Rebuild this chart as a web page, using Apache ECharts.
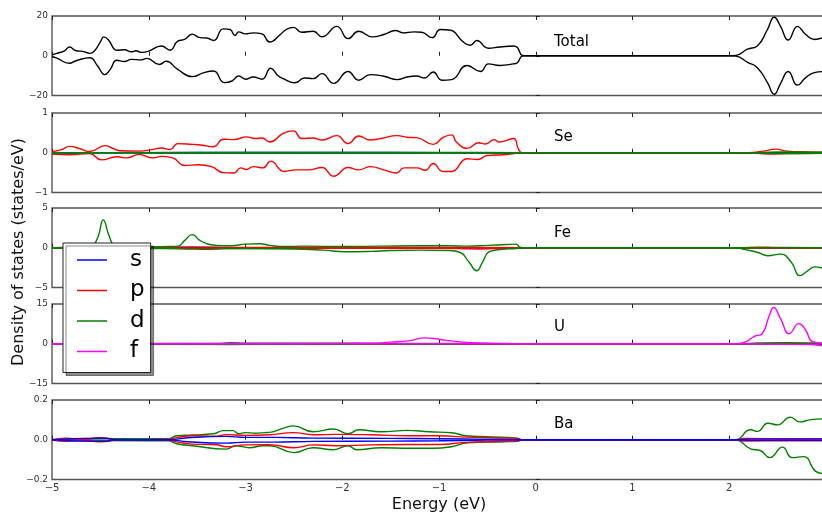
<!DOCTYPE html>
<html><head><meta charset="utf-8">
<script src="https://cdn.jsdelivr.net/npm/echarts@6/dist/echarts.min.js"></script>
<style>html,body{margin:0;padding:0;background:#fff}#c{width:822px;height:512px}</style>
</head><body><div id="c"></div>
<script>
// ---- data: [energy (eV), DOS] pairs ----
const xTicks = [-5,-4,-3,-2,-1,0,1,2,3];
const panelNames = ['Total','Se','Fe','U','Ba'];
const yLimits = [20, 1, 5, 15, 0.2];

const totalUp = [[-5,0.5],[-4.95,1.2],[-4.87,2.5],[-4.82,4.4],[-4.75,2.5],[-4.68,2.2],[-4.61,1.2],[-4.56,2.5],[-4.5,7],[-4.465,9.5],[-4.42,8.2],[-4.33,2.8],[-4.25,3.0],[-4.18,2.0],[-4.13,2.5],[-4.075,1.7],[-4.006,2.2],[-3.87,4.9],[-3.78,2.8],[-3.70,7.4],[-3.63,8.2],[-3.55,10.8],[-3.47,9.1],[-3.40,8.9],[-3.33,7.7],[-3.23,13.5],[-3.16,13.2],[-3.11,10.2],[-3.07,12.0],[-3.0,11.0],[-2.92,11.5],[-2.83,11.0],[-2.75,6.9],[-2.64,10.7],[-2.58,13.2],[-2.505,14.3],[-2.42,11.8],[-2.30,12.3],[-2.21,9.5],[-2.056,14.8],[-1.94,8.6],[-1.83,12.3],[-1.69,9.5],[-1.57,10.7],[-1.45,12.7],[-1.37,11.5],[-1.26,12.0],[-1.18,11.8],[-1.07,9.1],[-0.987,13.2],[-0.88,12.8],[-0.76,7.4],[-0.676,5.3],[-0.61,7.7],[-0.49,3.8],[-0.37,4.4],[-0.23,4.9],[-0.19,4.1],[-0.14,0.2],[-0.1,0],[2.0,0],[2.07,0.2],[2.188,3.3],[2.29,4.9],[2.395,13.2],[2.464,19.4],[2.53,14.8],[2.61,7.9],[2.705,14.8],[2.79,10.7],[2.88,8.2],[2.97,9.1]];
const totalDn = [[-5,-0.5],[-4.95,-1.2],[-4.82,-3.8],[-4.75,-2.5],[-4.61,-1.0],[-4.53,-5],[-4.455,-9.5],[-4.4,-7],[-4.33,-2.3],[-4.25,-2.9],[-4.18,-1.8],[-4.08,-2.1],[-4.02,-1.3],[-3.89,-4.4],[-3.82,-2.8],[-3.70,-6.9],[-3.55,-10.5],[-3.43,-8.5],[-3.33,-7.7],[-3.22,-13.5],[-3.14,-12.7],[-3.07,-10.2],[-3.0,-11.8],[-2.92,-10.7],[-2.83,-11.8],[-2.74,-6.3],[-2.66,-10.2],[-2.61,-11.5],[-2.49,-13.6],[-2.39,-11.2],[-2.30,-11.5],[-2.21,-9.0],[-2.09,-13.9],[-1.94,-7.9],[-1.83,-12.3],[-1.71,-9.5],[-1.57,-10.3],[-1.43,-12.0],[-1.33,-10.7],[-1.23,-10.2],[-1.15,-11.2],[-1.06,-8.2],[-0.97,-12.3],[-0.87,-12.0],[-0.71,-4.9],[-0.57,-7.9],[-0.49,-4.1],[-0.37,-4.9],[-0.23,-4.1],[-0.19,-3.5],[-0.14,-0.2],[-0.1,0],[2.0,0],[2.07,-0.2],[2.19,-3.3],[2.29,-6],[2.395,-13.5],[2.464,-19.4],[2.53,-14],[2.61,-7.9],[2.705,-14.8],[2.79,-11],[2.88,-8.5],[2.97,-8]];

const seS_up = [[-5,0],[-4,0.003],[-3,0.005],[-2,0.005],[-1,0.004],[-0.14,0],[3,0]];
const seS_dn = [[-5,0],[-4,-0.003],[-3,-0.005],[-2,-0.005],[-1,-0.004],[-0.14,0],[3,0]];
const seP_up = [[-5,0.03],[-4.9,0.08],[-4.82,0.16],[-4.71,0.1],[-4.61,0.03],[-4.45,0.18],[-4.38,0.12],[-4.3,0.05],[-4.1,0.04],[-3.96,0.08],[-3.87,0.12],[-3.78,0.08],[-3.70,0.23],[-3.55,0.21],[-3.45,0.19],[-3.33,0.15],[-3.23,0.34],[-3.12,0.33],[-2.99,0.40],[-2.9,0.36],[-2.83,0.37],[-2.75,0.27],[-2.61,0.49],[-2.505,0.55],[-2.42,0.36],[-2.30,0.37],[-2.21,0.32],[-2.056,0.43],[-1.94,0.23],[-1.83,0.42],[-1.71,0.32],[-1.6,0.36],[-1.43,0.43],[-1.33,0.39],[-1.23,0.38],[-1.06,0.21],[-0.96,0.38],[-0.87,0.45],[-0.82,0.27],[-0.71,0.11],[-0.59,0.25],[-0.52,0.22],[-0.43,0.33],[-0.38,0.27],[-0.23,0.36],[-0.18,0.1],[-0.14,0],[2.2,0],[2.35,0.04],[2.48,0.09],[2.6,0.04],[2.8,0.02],[3,0.01]];
const seP_dn = [[-5,-0.03],[-4.82,-0.05],[-4.61,-0.02],[-4.49,-0.18],[-4.33,-0.1],[-4.23,-0.13],[-4.1,-0.04],[-3.96,-0.13],[-3.86,-0.09],[-3.75,-0.13],[-3.63,-0.32],[-3.49,-0.3],[-3.35,-0.35],[-3.23,-0.5],[-3.12,-0.51],[-3.05,-0.38],[-2.99,-0.42],[-2.92,-0.35],[-2.82,-0.38],[-2.74,-0.21],[-2.60,-0.47],[-2.48,-0.43],[-2.35,-0.43],[-2.21,-0.37],[-2.09,-0.59],[-1.94,-0.37],[-1.83,-0.43],[-1.71,-0.35],[-1.57,-0.43],[-1.44,-0.51],[-1.36,-0.38],[-1.23,-0.38],[-1.14,-0.44],[-1.06,-0.27],[-0.96,-0.47],[-0.87,-0.47],[-0.71,-0.15],[-0.6,-0.17],[-0.5,-0.07],[-0.33,-0.05],[-0.18,-0.01],[-0.14,0],[2.2,0],[2.4,-0.03],[2.6,-0.02],[3,-0.01]];
const seD_up = [[-5,0],[-3,0.01],[-2,0.01],[-1,0.01],[-0.14,0],[2.2,0],[2.5,0.02],[3,0.01]];
const seD_dn = [[-5,0],[-3,-0.01],[-2,-0.01],[-1,-0.01],[-0.14,0],[2.2,0],[2.5,-0.02],[3,-0.01]];

const feS_up = [[-5,0],[-4.47,0.03],[-3,0.02],[-0.14,0],[3,0]];
const feS_dn = [[-5,0],[-4.47,-0.03],[-3,-0.02],[-0.14,0],[3,0]];
const feP_up = [[-5,0],[-4.47,0.1],[-4.2,0.02],[-3.55,0.1],[-3,0.05],[-2,0.05],[-1,0.05],[-0.14,0],[2.1,0],[2.3,0.08],[2.5,0.03],[3,0.02]];
const feP_dn = [[-5,0],[-4.47,-0.1],[-4.2,-0.02],[-3.6,-0.15],[-3.4,-0.2],[-3.2,-0.1],[-2,-0.08],[-1,-0.08],[-0.6,-0.15],[-0.14,0],[2.1,0],[2.5,-0.05],[3,-0.05]];
const feD_up = [[-5,0],[-4.75,0.05],[-4.6,0.2],[-4.53,1.2],[-4.47,3.5],[-4.41,1.5],[-4.35,0.3],[-4.2,0.1],[-4.0,0.1],[-3.8,0.15],[-3.7,0.2],[-3.63,0.9],[-3.55,1.65],[-3.48,1.0],[-3.4,0.5],[-3.3,0.3],[-3.15,0.25],[-3.0,0.45],[-2.85,0.5],[-2.75,0.3],[-2.6,0.15],[-2.4,0.2],[-2.0,0.15],[-1.6,0.2],[-1.2,0.25],[-0.9,0.25],[-0.7,0.2],[-0.5,0.3],[-0.3,0.4],[-0.2,0.45],[-0.17,0.1],[-0.14,0],[2.0,0],[3,0]];
const feD_dn = [[-5,0],[-4.5,-0.1],[-3.5,-0.1],[-3,-0.1],[-2.5,-0.15],[-2.2,-0.3],[-1.97,-0.5],[-1.7,-0.45],[-1.5,-0.35],[-1.2,-0.3],[-0.9,-0.35],[-0.78,-0.6],[-0.69,-1.8],[-0.61,-2.9],[-0.55,-1.8],[-0.48,-0.5],[-0.35,-0.2],[-0.2,-0.1],[-0.14,0],[2.0,0],[2.1,-0.05],[2.15,-0.2],[2.29,-0.56],[2.40,-1.0],[2.53,-0.8],[2.64,-1.8],[2.73,-3.5],[2.81,-2.9],[2.88,-2.4],[2.97,-2.6]];

const uS_up = [[-5,0],[-3,0.02],[-0.14,0],[3,0]];
const uS_dn = [[-5,0],[-3,-0.02],[-0.14,0],[3,0]];
const uP_up = [[-5,0],[-3,0.05],[-1,0.05],[-0.14,0],[2.1,0],[2.6,0.1],[3,0.05]];
const uP_dn = [[-5,0],[-3,-0.05],[-1,-0.05],[-0.14,0],[2.1,0],[2.6,-0.1],[3,-0.05]];
const uD_up = [[-5,0],[-3.3,0.1],[-3.15,0.4],[-3.0,0.2],[-2.5,0.2],[-1.5,0.15],[-0.5,0.1],[-0.14,0],[2.1,0],[2.3,0.3],[2.6,0.4],[2.9,0.3],[3,0.2]];
const uD_dn = [[-5,0],[-3.15,-0.3],[-2.5,-0.15],[-1.5,-0.1],[-0.14,0],[2.1,0],[2.6,-0.2],[3,-0.2]];
const uF_up = [[-5,0],[-3,0.1],[-2,0.15],[-1.7,0.2],[-1.5,0.6],[-1.3,1.2],[-1.15,2.2],[-1.05,2.0],[-0.95,1.4],[-0.8,0.8],[-0.6,0.3],[-0.3,0.1],[-0.14,0],[2.05,0],[2.15,0.4],[2.26,2.8],[2.34,3.8],[2.41,10.2],[2.46,13.7],[2.53,9.5],[2.62,3.8],[2.72,7.6],[2.79,5.1],[2.86,0.8],[2.97,0.2]];
const uF_dn = [[-5,0],[-2,-0.05],[-0.14,0],[2.1,0],[2.5,-0.2],[2.85,-0.3],[2.97,-0.9]];

const baS_up = [[-5,0],[-4.55,0.008],[-4.45,0.008],[-4.35,0],[-3.8,0],[-3.6,0.01],[-3.2,0.017],[-3,0.012],[-2.7,0.012],[-2.3,0.008],[-1.5,0.007],[-1,0.005],[-0.5,0.002],[-0.14,0],[2.1,0],[2.2,0.003],[3,0.003]];
const baS_dn = [[-5,0],[-4.55,-0.008],[-4.45,-0.008],[-4.35,0],[-3.8,0],[-3.6,-0.01],[-3.2,-0.017],[-3,-0.012],[-2.7,-0.012],[-2.3,-0.008],[-1.5,-0.007],[-1,-0.005],[-0.5,-0.002],[-0.14,0],[2.1,0],[2.2,-0.003],[3,-0.003]];
const baP_up = [[-5,0],[-4.85,0.008],[-4.7,0],[-4.5,0.01],[-4.3,0],[-3.8,0.003],[-3.7,0.012],[-3.55,0.02],[-3.3,0.018],[-3.2,0.026],[-3.0,0.022],[-2.75,0.025],[-2.505,0.036],[-2.3,0.025],[-2.06,0.027],[-1.7,0.025],[-1.33,0.02],[-1.0,0.02],[-0.72,0.013],[-0.4,0.009],[-0.19,0.007],[-0.14,0],[2.06,0],[2.15,0.006],[2.6,0.005],[3,0.006]];
const baP_dn = [[-5,0],[-4.85,-0.008],[-4.7,0],[-4.5,-0.01],[-4.3,0],[-3.8,-0.003],[-3.7,-0.012],[-3.55,-0.022],[-3.3,-0.025],[-3.2,-0.035],[-3.0,-0.026],[-2.75,-0.025],[-2.5,-0.04],[-2.3,-0.026],[-2.06,-0.03],[-1.7,-0.026],[-1.33,-0.024],[-1.0,-0.024],[-0.72,-0.013],[-0.4,-0.009],[-0.19,-0.007],[-0.14,0],[2.06,0],[2.15,-0.006],[2.6,-0.005],[3,-0.006]];
const baD_up = [[-5,0],[-4.5,0.005],[-4,0.005],[-3.8,0.005],[-3.71,0.02],[-3.55,0.024],[-3.33,0.03],[-3.23,0.046],[-3.13,0.046],[-3.07,0.03],[-3.0,0.036],[-2.9,0.033],[-2.8,0.036],[-2.75,0.037],[-2.6,0.06],[-2.505,0.07],[-2.3,0.04],[-2.09,0.054],[-1.94,0.03],[-1.83,0.05],[-1.6,0.04],[-1.33,0.047],[-1.1,0.04],[-0.87,0.035],[-0.72,0.02],[-0.5,0.015],[-0.19,0.008],[-0.14,0],[2.06,0],[2.22,0.05],[2.29,0.042],[2.40,0.083],[2.5,0.075],[2.63,0.114],[2.73,0.09],[2.83,0.1],[2.97,0.105]];
const baD_dn = [[-5,0],[-4,-0.005],[-3.8,-0.005],[-3.71,-0.02],[-3.55,-0.03],[-3.2,-0.047],[-3.1,-0.03],[-2.96,-0.04],[-2.82,-0.03],[-2.75,-0.03],[-2.5,-0.065],[-2.3,-0.04],[-2.09,-0.05],[-1.94,-0.03],[-1.85,-0.05],[-1.6,-0.04],[-1.3,-0.043],[-1.06,-0.043],[-0.87,-0.035],[-0.7,-0.015],[-0.33,-0.01],[-0.19,-0.008],[-0.14,0],[2.06,0],[2.22,-0.046],[2.32,-0.054],[2.42,-0.09],[2.55,-0.037],[2.65,-0.09],[2.77,-0.085],[2.89,-0.158],[2.97,-0.17]];

// ---- chart ----
const C = {s:'#0000ff', p:'#ff0000', d:'#008000', f:'#ff00ff', Total:'#000000'};
const FONT = 'DejaVu Sans';
const tops = [16, 113, 208, 304, 400];
const H = 79.5;
const chart = echarts.init(document.getElementById('c'), null, {renderer:'canvas'});

const grids = [], xAxes = [], yAxes = [], series = [], graphics = [];
panelNames.forEach((name, i) => {
  grids.push({left:52, top:tops[i], width:774, height:H, show:true, borderColor:'#555', borderWidth:1.4,
    backgroundColor:'transparent', containLabel:false, outerBoundsMode:'none'});
  xAxes.push({type:'value', gridIndex:i, min:xTicks[0], max:xTicks[xTicks.length-1], interval:1, position:'bottom',
    axisLine:{show:false}, splitLine:{show:false},
    axisTick:{show:true, inside:true, length:4, lineStyle:{color:'#222', width:1}},
    axisLabel:{show:i===4, color:'#333', fontSize:10, fontFamily:FONT, margin:4, hideOverlap:false,
      formatter: v => String(v).replace('-', '\u2212')},
    name: i===4 ? 'Energy (eV)' : '', nameLocation:'middle', nameGap:17,
    nameTextStyle:{fontSize:16, fontFamily:FONT, color:'#111'}});
  const lim = yLimits[i];
  const frac = lim < 1;
  yAxes.push({type:'value', gridIndex:i, min:-lim, max:lim, interval:lim,
    axisLine:{show:false}, splitLine:{show:false},
    axisTick:{show:true, inside:true, length:4, lineStyle:{color:'#222', width:1}},
    axisLabel:{color:'#333', fontSize:9, fontFamily:FONT, margin:4,
      formatter: v => (frac ? v.toFixed(1) : String(Math.round(v))).replace('-', '\u2212')}});
  graphics.push({type:'text', left:554, top:tops[i] + [19,17,18,16,17][i],
    style:{text:name, font:'15px "DejaVu Sans"', fill:'#000'}});
});
panelNames.forEach((name, i) => {
  xAxes.push({type:'value', gridIndex:i, min:-5, max:3, interval:1, position:'top',
    axisLine:{show:false}, splitLine:{show:false}, axisLabel:{show:false},
    axisTick:{show:true, inside:true, length:4, lineStyle:{color:'#222', width:1}}});
});

function add(i, nm, data, color, z) {
  series.push({type:'line', name:nm, xAxisIndex:i, yAxisIndex:i, data:data,
    showSymbol:false, symbol:'none', smooth:0.5, z:z||2,
    lineStyle:{color:color, width:1.4}, itemStyle:{color:color}, animation:false});
}
add(0,'Total',totalUp,C.Total); add(0,'Total',totalDn,C.Total);
add(1,'s',seS_up,C.s); add(1,'s',seS_dn,C.s);
add(1,'p',seP_up,C.p); add(1,'p',seP_dn,C.p);
add(1,'d',seD_up,C.d,3); add(1,'d',seD_dn,C.d,3);
add(2,'s',feS_up,C.s); add(2,'s',feS_dn,C.s);
add(2,'p',feP_up,C.p); add(2,'p',feP_dn,C.p);
add(2,'d',feD_up,C.d,3); add(2,'d',feD_dn,C.d,3);
add(3,'s',uS_up,C.s); add(3,'s',uS_dn,C.s);
add(3,'p',uP_up,C.p); add(3,'p',uP_dn,C.p);
add(3,'d',uD_up,C.d); add(3,'d',uD_dn,C.d);
add(3,'f',uF_up,C.f,3); add(3,'f',uF_dn,C.f,3);
add(4,'d',baD_up,C.d); add(4,'d',baD_dn,C.d);
add(4,'p',baP_up,C.p); add(4,'p',baP_dn,C.p);
add(4,'s',baS_up,C.s,3); add(4,'s',baS_dn,C.s,3);

graphics.push({type:'text', x:19, y:252, rotation:Math.PI/2,
  style:{text:'Density of states (states/eV)', font:'16px "DejaVu Sans"', fill:'#111',
    textAlign:'center', textVerticalAlign:'middle'}});

chart.setOption({
  animation:false,
  backgroundColor:'#fff',
  grid:grids, xAxis:xAxes, yAxis:yAxes, series:series, graphic:graphics,
  legend:{data:['s','p','d','f'], orient:'vertical', left:63, top:243, icon:'rect',
    itemWidth:30, itemHeight:1.5, itemGap:6.5, selectedMode:false,
    backgroundColor:'#fff', borderColor:'#222', borderWidth:1, borderRadius:0,
    padding:[5,6,9,14], shadowColor:'rgba(0,0,0,0.45)', shadowOffsetX:3, shadowOffsetY:3, shadowBlur:0,
    textStyle:{fontSize:23, fontFamily:FONT, color:'#000', padding:[0,0,0,18], lineHeight:24}, z:10}
});
</script></body></html>
